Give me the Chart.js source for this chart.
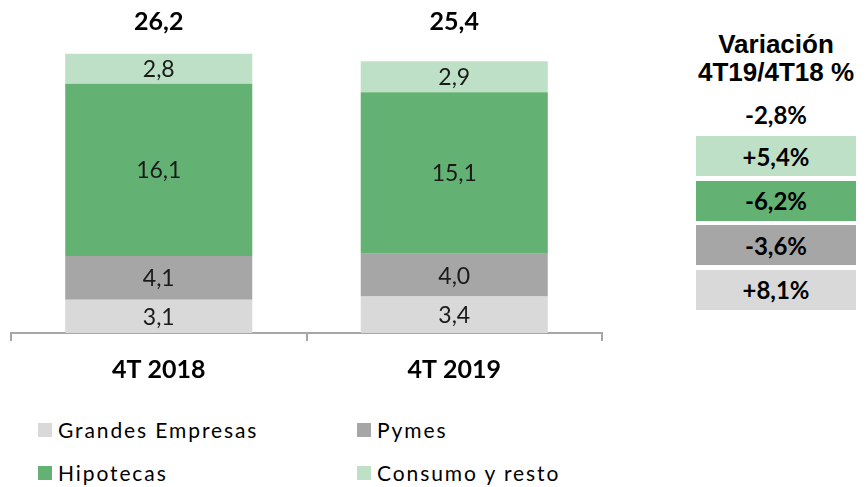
<!DOCTYPE html>
<html>
<head>
<meta charset="utf-8">
<script src="https://cdn.jsdelivr.net/npm/chart.js@4.4.0/dist/chart.umd.min.js"></script>
<style>
  body { margin: 0; background: #fff; width: 866px; height: 487px; position: relative; overflow: hidden; font-family: Lato, sans-serif; }
  #grafico { position: absolute; left: 0; top: 0; }
  .leyenda { position: absolute; height: 22px; display: flex; align-items: center; font-size: 21px; line-height: 22px; letter-spacing: 1.9px; color: #000; white-space: nowrap; }
  .leyenda span.cuadro { width: 14px; height: 14px; margin-right: 6px; display: inline-block; }
  .titulo { position: absolute; left: 680px; width: 192px; text-align: center; font-family: "Liberation Sans", Arial, sans-serif; font-weight: bold; font-size: 26px; line-height: 28px; color: #000; }
  .caja { position: absolute; left: 696px; width: 160px; height: 40px; display: flex; align-items: center; justify-content: center; font-weight: bold; font-size: 24px; color: #000; }
</style>
</head>
<body>
<canvas id="grafico" width="620" height="415"></canvas>
<div id="extras"></div>
<script>
// Datos del grafico
const categorias = ['4T 2018', '4T 2019'];
const series = ['Grandes Empresas', 'Pymes', 'Hipotecas', 'Consumo y resto'];
const grandesEmpresas = [3.1, 3.4];
const pymes = [4.1, 4.0];
const hipotecas = [16.1, 15.1];
const consumo = [2.8, 2.9];
const totales = [26.2, 25.4];
const colores = ['#d9d9d9', '#a6a6a6', '#63b274', '#bde0c6'];

// Variacion 4T19/4T18 (de arriba a abajo: total, consumo, hipotecas, pymes, grandes)
const variacionTotal = -2.8;
const variaciones = [5.4, -6.2, -3.6, 8.1];
const coloresVariacion = ['#bde0c6', '#63b274', '#a6a6a6', '#d9d9d9'];

const fmt = v => v.toFixed(1).replace('.', ',');
const fmtPct = v => (v > 0 ? '+' : '') + fmt(v) + '%';

// Etiquetas dentro de las barras y totales encima
const etiquetas = {
    id: 'etiquetas',
    afterDatasetsDraw(chart) {
        const ctx = chart.ctx;
        ctx.save();
        ctx.textAlign = 'center';
        ctx.textBaseline = 'middle';
        ctx.fillStyle = '#1a1a1a';
        ctx.font = '23px Lato';
        chart.data.datasets.forEach((ds, i) => {
            chart.getDatasetMeta(i).data.forEach((bar, j) => {
                ctx.fillText(fmt(ds.data[j]), bar.x, (bar.y + bar.base) / 2 + 1);
            });
        });
        ctx.font = 'bold 25px Lato';
        ctx.fillStyle = '#000';
        const ultima = chart.getDatasetMeta(chart.data.datasets.length - 1).data;
        ultima.forEach((bar, j) => ctx.fillText(fmt(totales[j]), bar.x, chart.chartArea.top + 10));
        ctx.restore();
    }
};

const valores = [grandesEmpresas, pymes, hipotecas, consumo];

new Chart(document.getElementById('grafico').getContext('2d'), {
    type: 'bar',
    data: {
        labels: categorias,
        datasets: series.map((nombre, i) => ({
            label: nombre,
            data: valores[i],
            backgroundColor: colores[i],
            borderWidth: 0,
            barPercentage: 0.633,
            categoryPercentage: 1
        }))
    },
    options: {
        responsive: false,
        animation: false,
        layout: { padding: { left: 11, right: 18, top: 12, bottom: 16 } },
        plugins: {
            legend: { display: false },
            tooltip: { enabled: false }
        },
        scales: {
            x: {
                stacked: true,
                grid: { offset: true, drawOnChartArea: false, tickLength: 8, color: '#a6a6a6', lineWidth: 2 },
                border: { color: '#a6a6a6', width: 2 },
                ticks: { color: '#000', padding: 14, font: { family: 'Lato', size: 25, weight: 'bold' } }
            },
            y: { stacked: true, display: false, min: 0, max: 30 }
        }
    },
    plugins: [etiquetas]
});

// Leyenda en dos columnas
const extras = document.getElementById('extras');
const colX = [38, 357];
const filaY = [419, 462];
series.forEach((nombre, i) => {
    const d = document.createElement('div');
    d.className = 'leyenda';
    d.style.left = colX[i % 2] + 'px';
    d.style.top = filaY[Math.floor(i / 2)] + 'px';
    d.innerHTML = `<span class="cuadro" style="background:${colores[i]}"></span>${nombre}`;
    extras.appendChild(d);
});

// Panel de variaciones
const t = document.createElement('div');
t.className = 'titulo';
t.style.top = '30px';
t.innerHTML = 'Variación<br>4T19/4T18 %';
extras.appendChild(t);

const tot = document.createElement('div');
tot.className = 'caja';
tot.style.top = '94px';
tot.textContent = fmtPct(variacionTotal);
extras.appendChild(tot);

variaciones.forEach((v, i) => {
    const c = document.createElement('div');
    c.className = 'caja';
    c.style.top = (136 + i * 44.5) + 'px';
    c.style.background = coloresVariacion[i];
    c.textContent = fmtPct(v);
    extras.appendChild(c);
});
</script>
</body>
</html>
